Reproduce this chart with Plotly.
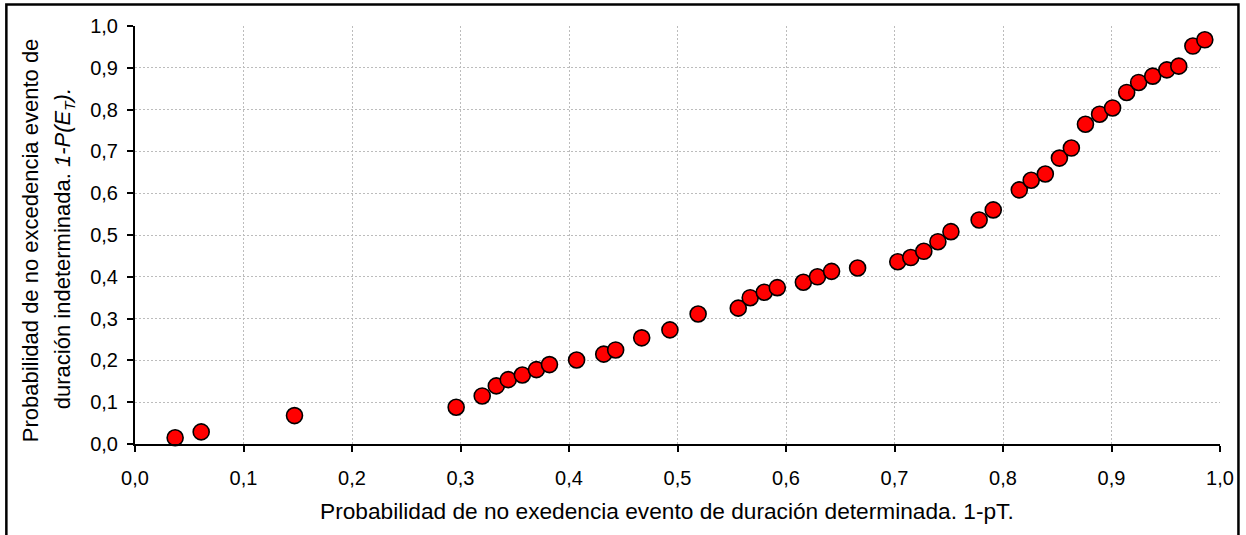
import plotly.graph_objects as go

# ---- data ----
x_vals = [0.037, 0.061, 0.147, 0.296, 0.320, 0.333, 0.344, 0.357, 0.370, 0.382,
          0.407, 0.432, 0.443, 0.467, 0.493, 0.519, 0.556, 0.567, 0.580, 0.592,
          0.616, 0.629, 0.642, 0.666, 0.703, 0.715, 0.727, 0.740, 0.752, 0.778,
          0.791, 0.815, 0.826, 0.839, 0.852, 0.863, 0.876, 0.889, 0.901, 0.914,
          0.925, 0.938, 0.951, 0.962, 0.975, 0.986]
y_vals = [0.015, 0.029, 0.068, 0.088, 0.115, 0.139, 0.154, 0.165, 0.178, 0.190,
          0.201, 0.215, 0.225, 0.254, 0.273, 0.311, 0.325, 0.350, 0.363, 0.374,
          0.387, 0.400, 0.413, 0.421, 0.436, 0.446, 0.461, 0.484, 0.508, 0.536,
          0.560, 0.608, 0.631, 0.646, 0.684, 0.708, 0.765, 0.789, 0.804, 0.841,
          0.865, 0.880, 0.895, 0.904, 0.952, 0.967]

tick_vals = [0.0, 0.1, 0.2, 0.3, 0.4, 0.5, 0.6, 0.7, 0.8, 0.9, 1.0]
tick_text = ["0,0", "0,1", "0,2", "0,3", "0,4", "0,5", "0,6", "0,7", "0,8", "0,9", "1,0"]

x_title = "Probabilidad de no exedencia evento de duración determinada. 1-pT."
y_title_1 = "Probabilidad de no excedencia evento de"
y_title_2 = "duración indeterminada. <i>1-P(E<sub>T</sub>).</i>"

FONT = "Liberation Sans, Arial, sans-serif"

fig = go.Figure()
fig.add_trace(go.Scatter(
    x=x_vals, y=y_vals, mode="markers",
    marker=dict(size=16, color="#ff0000", line=dict(color="#000000", width=1.6)),
    cliponaxis=False, showlegend=False,
))

axis_common = dict(
    range=[0, 1],
    tickmode="array", tickvals=tick_vals, ticktext=tick_text,
    showgrid=True, gridcolor="#bcbcbc", gridwidth=1, griddash="2px,2px",
    zeroline=False,
    showline=True, linecolor="#000000", linewidth=2,
    ticks="outside", ticklen=6, tickwidth=2, tickcolor="#000000",
    tickfont=dict(family=FONT, size=20, color="#000000"),
    fixedrange=True,
)

fig.update_xaxes(**axis_common, ticklabelstandoff=9)
fig.update_yaxes(**axis_common, ticklabelstandoff=5)

L, R, T, B = 135, 23, 26, 91
W, H = 1246, 535
pw, ph = W - L - R, H - T - B

def px_x(p):
    return (p - L) / pw

def px_y(p):
    return (H - B - p) / ph

annotations = [
    dict(text=x_title, xref="paper", yref="paper", x=px_x(668), y=px_y(511),
         xanchor="center", yanchor="middle", showarrow=False,
         font=dict(family=FONT, size=22.7, color="#000000")),
    dict(text=y_title_1, xref="paper", yref="paper", x=px_x(30), y=px_y(240),
         xanchor="center", yanchor="middle", showarrow=False, textangle=-90,
         font=dict(family=FONT, size=22, color="#000000")),
    dict(text=y_title_2, xref="paper", yref="paper", x=px_x(64), y=px_y(249),
         xanchor="center", yanchor="middle", showarrow=False, textangle=-90,
         font=dict(family=FONT, size=22, color="#000000")),
]

shapes = [
    dict(type="rect", xref="paper", yref="paper",
         x0=px_x(6), x1=px_x(1241.5), y0=px_y(545), y1=px_y(4.5),
         line=dict(color="#000000", width=2.5), fillcolor="rgba(0,0,0,0)", layer="above"),
]

fig.update_layout(
    width=W, height=H,
    margin=dict(l=L, r=R, t=T, b=B),
    paper_bgcolor="#ffffff", plot_bgcolor="#ffffff",
    font=dict(family=FONT, color="#000000"),
    annotations=annotations, shapes=shapes,
    showlegend=False,
)

fig.write_html("out.html", config={"displayModeBar": False},
               post_script="document.body.style.margin='0';")
